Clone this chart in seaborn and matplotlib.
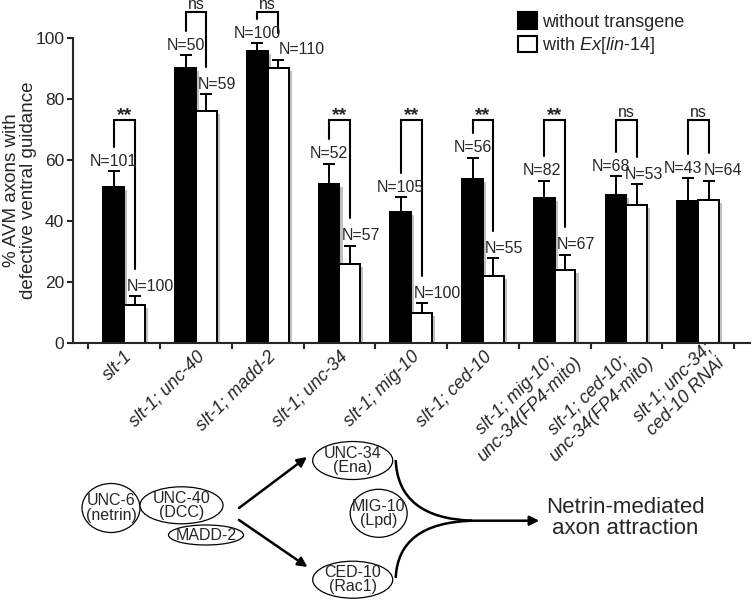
import pandas as pd
import matplotlib
matplotlib.use('Agg')
import matplotlib.pyplot as plt
import matplotlib.patheffects as pe
from matplotlib.patches import Ellipse, Patch, PathPatch
from matplotlib.path import Path
from matplotlib.transforms import ScaledTranslation
import seaborn as sns

# data
genotypes = ['slt-1', 'slt-1; unc-40', 'slt-1; madd-2', 'slt-1; unc-34',
             'slt-1; mig-10', 'slt-1; ced-10',
             'slt-1; mig-10;\nunc-34(FP4-mito)',
             'slt-1; ced-10;\nunc-34(FP4-mito)',
             'slt-1; unc-34;\nced-10 RNAi']
conditions = ['without transgene', 'with Ex[lin-14]']
pct_without = [51.3, 90.1, 95.9, 52.0, 43.1, 53.9, 47.5, 48.4, 46.4]
pct_with = [12.4, 76.1, 90.3, 26.0, 9.9, 22.0, 23.9, 45.4, 46.9]
err_without = [5.1, 4.4, 2.4, 6.8, 4.7, 6.9, 5.7, 6.3, 7.7]
err_with = [2.9, 5.5, 2.6, 5.9, 3.0, 5.7, 5.0, 6.7, 6.3]
n_without = [101, 50, 100, 52, 105, 56, 82, 68, 43]
n_with = [100, 59, 110, 57, 100, 55, 67, 53, 64]
signif = ['**', 'ns', 'ns', '**', '**', '**', '**', 'ns', 'ns']

df = pd.DataFrame({
    'genotype': genotypes * 2,
    'condition': [conditions[0]] * 9 + [conditions[1]] * 9,
    'pct': pct_without + pct_with,
})

sns.set_theme(style='ticks')
plt.rcParams['font.family'] = ['Liberation Sans', 'DejaVu Sans']
plt.rcParams['mathtext.fontset'] = 'custom'
plt.rcParams['mathtext.rm'] = 'Liberation Sans'
plt.rcParams['mathtext.it'] = 'Liberation Sans:italic'

fig = plt.figure(figsize=(7.56, 6), dpi=100)

# pathway diagram underneath, drawn in pixel coordinates
dax = fig.add_axes([0, 0, 1, 1])
dax.set_xlim(0, 756)
dax.set_ylim(600, 0)
dax.axis('off')

ax = fig.add_axes([72.7 / 756, 1 - 342.7 / 600, 677 / 756, 304.4 / 600])

sns.barplot(data=df, x='genotype', y='pct', hue='condition', order=genotypes,
            hue_order=conditions, palette=['black', 'white'], saturation=1,
            edgecolor='black', linewidth=1.4, width=0.58, errorbar=None,
            legend=False, ax=ax)

shadow = [pe.SimplePatchShadow(offset=(2.2, -2.2), shadow_rgbFace='0.65', alpha=0.7),
          pe.Normal()]
centers = []
for cont, errs in zip(ax.containers, [err_without, err_with]):
    xs = []
    for bar, e in zip(cont, errs):
        bar.set_path_effects(shadow)
        x = bar.get_x() + bar.get_width() / 2
        xs.append(x)
        ax.errorbar(x, bar.get_height(), yerr=[[0], [e]], fmt='none',
                    ecolor='black', elinewidth=1.4, capsize=4.5, capthick=1.4,
                    zorder=3)
    centers.append(xs)
bar_w = ax.containers[0][0].get_width()

# small sideways nudges (in group units) so the N labels do not collide
nudge_black = {6: -0.03, 7: -0.07, 8: -0.06}
nudge_white = {2: 0.16, 7: -0.02, 8: 0.08}
for i in range(len(genotypes)):
    xb, xw = centers[0][i], centers[1][i]
    cb = pct_without[i] + err_without[i]
    cw = pct_with[i] + err_with[i]
    ax.text(xb + nudge_black.get(i, 0), cb + 0.8, f'N={n_without[i]}',
            ha='center', va='bottom', fontsize=11.5)
    ax.text(xw - bar_w / 2 + nudge_white.get(i, 0.03), cw + 0.8,
            f'N={n_with[i]}', ha='left', va='bottom', fontsize=11.5,
            clip_on=False)
    lb, rb = cb + 8, cw + 9
    top = 73 if max(lb, rb) < 70 else 108.5
    ax.plot([xb, xb, xw, xw], [lb, top, top, rb], color='black', lw=1.5,
            clip_on=False, solid_joinstyle='miter')
    if signif[i] == '**':
        ax.text((xb + xw) / 2, top - 1.2, '**', ha='center', va='bottom',
                fontsize=14, fontweight='bold', clip_on=False)
    else:
        ax.text((xb + xw) / 2, top + 0.1, 'ns', ha='center', va='bottom',
                fontsize=11.5, clip_on=False)

ax.set_ylim(0, 100)
ax.set_yticks(range(0, 101, 20))
ax.set_xlabel('')
ax.set_ylabel('% AVM axons with\ndefective ventral guidance', fontsize=13.5,
              linespacing=0.95, labelpad=-1)
ax.set_xticks(range(len(genotypes)))
ax.set_xticks([i - 0.5 for i in range(len(genotypes) + 1)], minor=True)
ax.set_xticklabels(genotypes, rotation=45, ha='right', va='top',
                   rotation_mode='anchor', fontstyle='italic', fontsize=13,
                   multialignment='center')
ax.tick_params(axis='x', which='major', length=0, pad=3.6)
ax.tick_params(axis='x', which='minor', length=4, width=1.5, direction='out')
ax.tick_params(axis='y', length=4, width=1.5, labelsize=12.5, pad=2)
# two-line labels sit a little higher and to the right
for lab in ax.get_xticklabels():
    if '\n' in lab.get_text():
        lab.set_transform(lab.get_transform() +
                          ScaledTranslation(0.05, 0.08, fig.dpi_scale_trans))
sns.despine(ax=ax)
for s in ['left', 'bottom']:
    ax.spines[s].set_linewidth(1.5)
ax.set_facecolor('none')

handles = [Patch(facecolor='black', edgecolor='black', linewidth=1.5),
           Patch(facecolor='white', edgecolor='black', linewidth=1.5)]
fig.legend(handles, ['without transgene', r'with $\mathit{Ex[lin}$-$\mathit{14]}$'],
           loc='upper left', bbox_to_anchor=(518 / 756, 1 - 12 / 600),
           frameon=False, fontsize=13, handlelength=1.05, handleheight=1.05,
           handletextpad=0.3, labelspacing=0.25, borderpad=0, borderaxespad=0)

# netrin pathway schematic
nodes = [('UNC-6\n(netrin)', 111, 508, 58, 49),
         ('UNC-40\n(DCC)', 181.5, 505.3, 83, 37),
         ('MADD-2', 206, 535, 75, 20),
         ('UNC-34\n(Ena)', 352.7, 460.5, 80, 38),
         ('MIG-10\n(Lpd)', 378.7, 513.3, 57, 48),
         ('CED-10\n(Rac1)', 352.7, 579.7, 80, 37)]
for label, x, y, w, h in nodes:
    dax.add_patch(Ellipse((x, y), w, h, facecolor='white', edgecolor='black',
                          lw=0.9))
    dax.text(x, y, label, ha='center', va='center', fontsize=11.5,
             linespacing=0.95)

arrow = dict(arrowstyle='-|>', lw=1.8, color='black', mutation_scale=14,
             shrinkA=0, shrinkB=0)
dax.annotate('', xy=(307, 457), xytext=(239, 508), arrowprops=arrow)
dax.annotate('', xy=(307.5, 567), xytext=(239, 520), arrowprops=arrow)
for y0, yc in [(460, 518), (578, 523)]:
    p = Path([(395.7, y0), (398, yc), (471.7, 520.7)],
             [Path.MOVETO, Path.CURVE3, Path.CURVE3])
    dax.add_patch(PathPatch(p, fill=False, lw=1.8, color='black'))
dax.annotate('', xy=(539.3, 520.7), xytext=(471, 520.7), arrowprops=arrow)
dax.text(625, 518, 'Netrin-mediated\naxon attraction', ha='center',
         va='center', fontsize=16, linespacing=1.0)

plt.savefig('out.png', dpi=100)
